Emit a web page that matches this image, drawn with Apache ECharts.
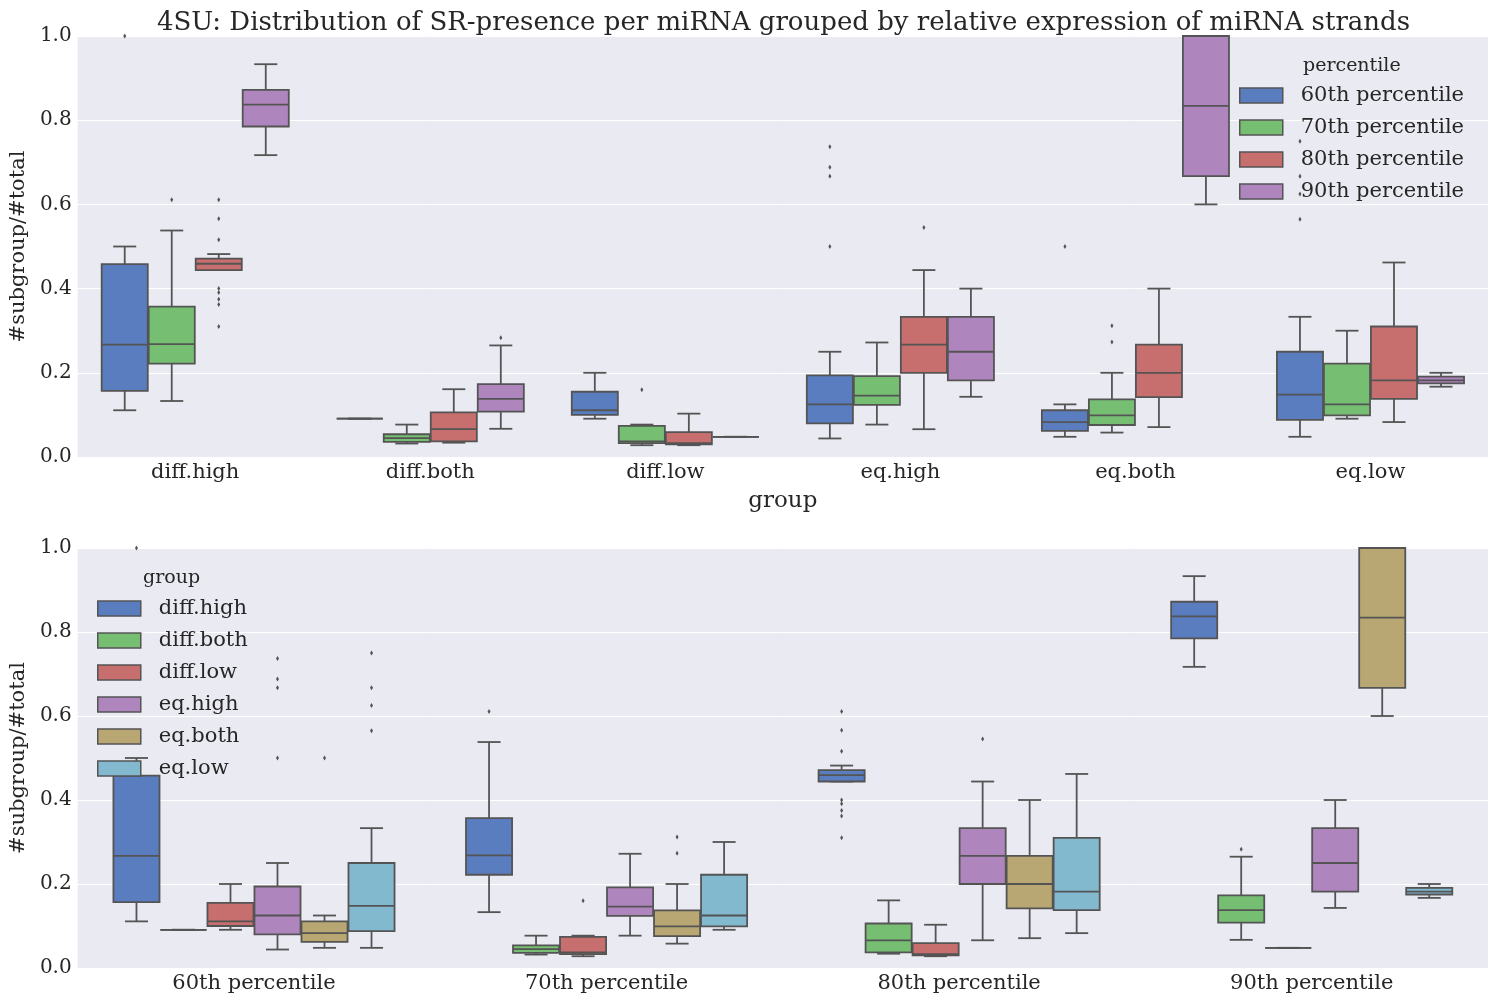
<!DOCTYPE html>
<html>
<head>
<meta charset="utf-8">
<script src="https://cdn.jsdelivr.net/npm/echarts@6/dist/echarts.min.js"></script>
<style>
html,body{margin:0;padding:0;background:#fff;}
#chart{width:1498px;height:996px;}
</style>
</head>
<body>
<div id="chart"></div>
<script>
const groups = ['diff.high', 'diff.both', 'diff.low', 'eq.high', 'eq.both', 'eq.low'];
const percentiles = ['60th percentile', '70th percentile', '80th percentile', '90th percentile'];
const yTicks = [0, 0.2, 0.4, 0.6, 0.8, 1.0];

// box stats per group: [lower whisker, Q1, median, Q3, upper whisker]
const stats60 = [
  [0.111, 0.157, 0.267, 0.458, 0.500],
  [0.091, 0.091, 0.091, 0.091, 0.091],
  [0.091, 0.100, 0.111, 0.155, 0.200],
  [0.044, 0.080, 0.125, 0.194, 0.250],
  [0.048, 0.062, 0.083, 0.111, 0.125],
  [0.048, 0.088, 0.148, 0.250, 0.333]
];
const stats70 = [
  [0.133, 0.222, 0.268, 0.357, 0.538],
  [0.032, 0.036, 0.045, 0.054, 0.077],
  [0.028, 0.033, 0.037, 0.074, 0.077],
  [0.077, 0.124, 0.146, 0.192, 0.272],
  [0.058, 0.076, 0.099, 0.137, 0.200],
  [0.091, 0.099, 0.125, 0.222, 0.300]
];
const stats80 = [
  [0.444, 0.444, 0.459, 0.471, 0.482],
  [0.034, 0.037, 0.066, 0.106, 0.161],
  [0.028, 0.030, 0.033, 0.059, 0.103],
  [0.066, 0.200, 0.267, 0.333, 0.444],
  [0.071, 0.142, 0.200, 0.267, 0.400],
  [0.083, 0.138, 0.182, 0.310, 0.462]
];
const stats90 = [
  [0.717, 0.785, 0.837, 0.872, 0.933],
  [0.067, 0.108, 0.138, 0.173, 0.265],
  [0.048, 0.048, 0.048, 0.048, 0.048],
  [0.143, 0.182, 0.250, 0.333, 0.400],
  [0.600, 0.667, 0.834, 1.000, 1.000],
  [0.167, 0.175, 0.182, 0.191, 0.200]
];
// outliers: [group index, value]
const out60 = [[0, 1.0], [3, 0.5], [3, 0.667], [3, 0.688], [3, 0.737], [4, 0.5], [5, 0.565], [5, 0.625], [5, 0.667], [5, 0.75]];
const out70 = [[0, 0.611], [2, 0.16], [4, 0.273], [4, 0.312]];
const out80 = [[0, 0.31], [0, 0.362], [0, 0.375], [0, 0.391], [0, 0.4], [0, 0.516], [0, 0.566], [0, 0.611], [3, 0.545]];
const out90 = [[1, 0.283]];

const statsByPct = [stats60, stats70, stats80, stats90];
const outByPct = [out60, out70, out80, out90];

const pctColors = ['#597DBE', '#76BF72', '#C76E6E', '#AF85BE'];
const groupColors = ['#597DBE', '#76BF72', '#C76E6E', '#AF85BE', '#B8A772', '#83B9CE'];
const LINE = '#545454';
const FONT = 'DejaVu Serif';
const TXT = '#262626';

function boxRenderer(nSeries, idx, color) {
  return function (params, api) {
    const cat = api.value(0);
    const band = api.size([1, 0])[0];
    const w = band * 0.8 / nSeries;
    const cx = api.coord([cat, 0])[0] - band * 0.4 + w * (idx + 0.5);
    const bw = w * 0.98;
    const cap = bw / 2;
    const y = function (v) { return api.coord([cat, v])[1]; };
    const lo = y(api.value(1)), q1 = y(api.value(2)), med = y(api.value(3)), q3 = y(api.value(4)), hi = y(api.value(5));
    const ls = { stroke: LINE, lineWidth: 1.8 };
    return {
      type: 'group',
      children: [
        { type: 'line', shape: { x1: cx, y1: hi, x2: cx, y2: q3 }, style: ls },
        { type: 'line', shape: { x1: cx, y1: q1, x2: cx, y2: lo }, style: ls },
        { type: 'line', shape: { x1: cx - cap / 2, y1: hi, x2: cx + cap / 2, y2: hi }, style: ls },
        { type: 'line', shape: { x1: cx - cap / 2, y1: lo, x2: cx + cap / 2, y2: lo }, style: ls },
        { type: 'rect', shape: { x: cx - bw / 2, y: q3, width: bw, height: q1 - q3 }, style: { fill: color, stroke: LINE, lineWidth: 1.8 } },
        { type: 'line', shape: { x1: cx - bw / 2, y1: med, x2: cx + bw / 2, y2: med }, style: ls }
      ]
    };
  };
}
function outlierRenderer(nSeries, idx) {
  return function (params, api) {
    const cat = api.value(0);
    const band = api.size([1, 0])[0];
    const w = band * 0.8 / nSeries;
    const p = api.coord([cat, api.value(1)]);
    const cx = p[0] - band * 0.4 + w * (idx + 0.5);
    const cy = p[1];
    return {
      type: 'polygon',
      shape: { points: [[cx, cy - 2.5], [cx + 1.5, cy], [cx, cy + 2.5], [cx - 1.5, cy]] },
      style: { fill: LINE }
    };
  };
}

const series = [];
// top plot: hue = percentile
percentiles.forEach(function (p, pi) {
  series.push({
    name: p, type: 'custom', xAxisIndex: 0, yAxisIndex: 0,
    itemStyle: { color: pctColors[pi] },
    encode: { x: 0, y: [1, 2, 3, 4, 5] },
    renderItem: boxRenderer(percentiles.length, pi, pctColors[pi]),
    data: groups.map(function (g, gi) { return [gi].concat(statsByPct[pi][gi]); })
  });
  series.push({
    name: p + ' outliers', type: 'custom', xAxisIndex: 0, yAxisIndex: 0,
    encode: { x: 0, y: 1 },
    renderItem: outlierRenderer(percentiles.length, pi),
    data: outByPct[pi]
  });
});
// bottom plot: hue = group
groups.forEach(function (g, gi) {
  series.push({
    name: g, type: 'custom', xAxisIndex: 1, yAxisIndex: 1,
    itemStyle: { color: groupColors[gi] },
    encode: { x: 0, y: [1, 2, 3, 4, 5] },
    renderItem: boxRenderer(groups.length, gi, groupColors[gi]),
    data: percentiles.map(function (p, pi) { return [pi].concat(statsByPct[pi][gi]); })
  });
  const outs = [];
  outByPct.forEach(function (arr, pi) {
    arr.forEach(function (o) { if (o[0] === gi) outs.push([pi, o[1]]); });
  });
  series.push({
    name: g + ' outliers', type: 'custom', xAxisIndex: 1, yAxisIndex: 1,
    encode: { x: 0, y: 1 },
    renderItem: outlierRenderer(groups.length, gi),
    data: outs
  });
});

function yAxis(gridIndex) {
  return {
    type: 'value', gridIndex: gridIndex, min: 0, max: 1, interval: 0.2,
    name: '#subgroup/#total', nameLocation: 'middle', nameGap: 45,
    nameTextStyle: { fontFamily: FONT, fontSize: 21, color: TXT },
    axisLine: { show: false }, axisTick: { show: false },
    axisLabel: { fontFamily: FONT, fontSize: 20, color: TXT, margin: 6,
      formatter: function (v) { return v.toFixed(1); } },
    splitLine: { show: true, lineStyle: { color: '#ffffff', width: 1 } }
  };
}

const chart = echarts.init(document.getElementById('chart'));
chart.setOption({
  animation: false,
  backgroundColor: '#ffffff',
  title: [
    { text: '4SU: Distribution of SR-presence per miRNA grouped by relative expression of miRNA strands',
      left: 157, top: 10, padding: 0,
      textStyle: { fontFamily: FONT, fontSize: 26, fontWeight: 'normal', color: TXT } },
    { text: 'percentile', left: 1303, top: 57, padding: 0,
      textStyle: { fontFamily: FONT, fontSize: 19, fontWeight: 'normal', color: TXT } },
    { text: 'group', left: 143, top: 569, padding: 0,
      textStyle: { fontFamily: FONT, fontSize: 19, fontWeight: 'normal', color: TXT } }
  ],
  legend: [
    { data: percentiles, orient: 'vertical', left: 1239, top: 85, padding: 0,
      icon: 'rect', itemWidth: 43, itemHeight: 15, itemGap: 11,
      itemStyle: { borderColor: LINE, borderWidth: 1.5 },
      textStyle: { fontFamily: FONT, fontSize: 21, color: TXT, padding: [0, 0, 0, 13] } },
    { data: groups, orient: 'vertical', left: 97, top: 598, padding: 0,
      icon: 'rect', itemWidth: 43, itemHeight: 15, itemGap: 11,
      itemStyle: { borderColor: LINE, borderWidth: 1.5 },
      textStyle: { fontFamily: FONT, fontSize: 21, color: TXT, padding: [0, 0, 0, 13] } }
  ],
  grid: [
    { left: 77, right: 10, top: 36, height: 421, show: true, backgroundColor: '#EAEAF2', borderWidth: 0 },
    { left: 77, right: 10, top: 548, height: 420, show: true, backgroundColor: '#EAEAF2', borderWidth: 0 }
  ],
  xAxis: [
    { type: 'category', gridIndex: 0, data: groups, name: 'group', nameLocation: 'middle', nameGap: 33,
      nameTextStyle: { fontFamily: FONT, fontSize: 23, color: TXT },
      axisLine: { show: false }, axisTick: { show: false }, splitLine: { show: false },
      axisLabel: { fontFamily: FONT, fontSize: 21, color: TXT, margin: 5 } },
    { type: 'category', gridIndex: 1, data: percentiles,
      axisLine: { show: false }, axisTick: { show: false }, splitLine: { show: false },
      axisLabel: { fontFamily: FONT, fontSize: 21, color: TXT, margin: 5 } }
  ],
  yAxis: [yAxis(0), yAxis(1)],
  series: series
});
</script>
</body>
</html>
